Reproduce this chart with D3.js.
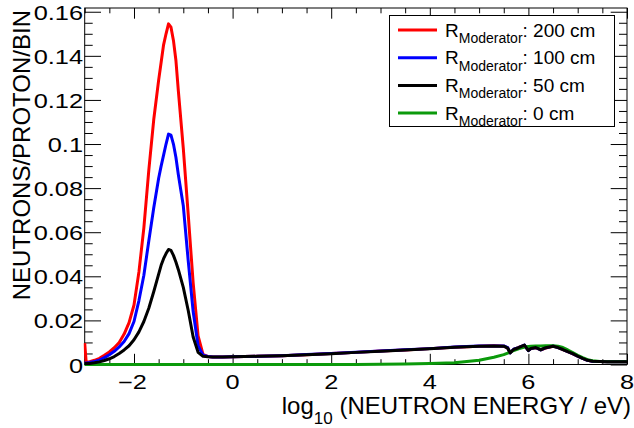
<!DOCTYPE html>
<html>
<head>
<meta charset="utf-8">
<script src="https://cdn.jsdelivr.net/npm/d3@7"></script>
<style>
  body { margin: 0; background: #fff; }
  svg { display: block; }
  text { font-family: "Liberation Sans", Arial, Helvetica, sans-serif; fill: #000; }
</style>
</head>
<body>
<svg id="chart" width="634" height="428"></svg>
<script>
// log10 of neutron energy (eV) at which each spectrum is sampled
const logE = [
  -3.0, -2.97, -2.9, -2.8, -2.7, -2.6, -2.5, -2.4, -2.3, -2.2, -2.1, -2.0,
  -1.9, -1.8, -1.7, -1.6, -1.5, -1.45, -1.4, -1.35, -1.3, -1.25, -1.2, -1.15,
  -1.1, -1.0, -0.9, -0.8, -0.7, -0.6, -0.5, -0.4,
  -0.2, 0, 0.5, 1, 1.5, 2, 2.5, 3, 3.5, 4, 4.5, 5, 5.3, 5.5, 5.58, 5.63,
  5.7, 5.8, 5.92, 6.0, 6.05, 6.15, 6.25, 6.35, 6.5, 6.6, 6.7, 6.8, 6.9,
  7.0, 7.1, 7.2, 7.3, 7.45, 7.6, 7.8, 8.0
];

// neutrons per proton per bin, moderator radius 200 cm
const mod200 = [
  0.0097, 0.0011, 0.0013, 0.0019, 0.0028, 0.0042, 0.0057, 0.0076, 0.0100, 0.0138, 0.0190, 0.0270,
  0.0420, 0.0620, 0.0880, 0.1110, 0.1290, 0.1370, 0.1450, 0.1500, 0.1545, 0.1530, 0.1470, 0.1380,
  0.1240, 0.0980, 0.0680, 0.0370, 0.0130, 0.0046, 0.0036, 0.0034,
  0.0034, 0.0035, 0.0037, 0.0040, 0.0044, 0.0050, 0.0055, 0.0061, 0.0066, 0.0072, 0.0078, 0.0083, 0.0085, 0.0083, 0.0075, 0.0054,
  0.0068, 0.0077, 0.0087, 0.0064, 0.0072, 0.0076, 0.0067, 0.0075, 0.0083, 0.0078, 0.0068, 0.0058, 0.0048,
  0.0038, 0.0028, 0.0019, 0.0015, 0.0014, 0.0013, 0.0013, 0.0013
];

// moderator radius 100 cm
const mod100 = [
  0.0006, 0.0007, 0.0009, 0.0014, 0.0020, 0.0031, 0.0044, 0.0060, 0.0080, 0.0104, 0.0140, 0.0195,
  0.0290, 0.0405, 0.0560, 0.0710, 0.0845, 0.0900, 0.0950, 0.1000, 0.1045, 0.1040, 0.1000, 0.0940,
  0.0860, 0.0720, 0.0470, 0.0240, 0.0085, 0.0042, 0.0036, 0.0034,
  0.0034, 0.0035, 0.0037, 0.0040, 0.0045, 0.0050, 0.0056, 0.0061, 0.0067, 0.0072, 0.0079, 0.0084, 0.0084, 0.0084, 0.0076, 0.0053,
  0.0069, 0.0076, 0.0088, 0.0063, 0.0073, 0.0077, 0.0066, 0.0076, 0.0084, 0.0077, 0.0069, 0.0058, 0.0049,
  0.0038, 0.0028, 0.0019, 0.0015, 0.0014, 0.0013, 0.0013, 0.0013
];

// moderator radius 50 cm
const mod50 = [
  0.0004, 0.0004, 0.0005, 0.0008, 0.0012, 0.0018, 0.0026, 0.0036, 0.0050, 0.0066, 0.0085, 0.0112,
  0.0148, 0.0195, 0.0255, 0.0330, 0.0410, 0.0450, 0.0480, 0.0503, 0.0522, 0.0518, 0.0495, 0.0465,
  0.0430, 0.0350, 0.0245, 0.0125, 0.0055, 0.0037, 0.0035, 0.0034,
  0.0034, 0.0035, 0.0037, 0.0040, 0.0044, 0.0049, 0.0055, 0.0060, 0.0066, 0.0071, 0.0078, 0.0083, 0.0084, 0.0083, 0.0074, 0.0053,
  0.0068, 0.0076, 0.0088, 0.0063, 0.0073, 0.0077, 0.0066, 0.0076, 0.0083, 0.0077, 0.0068, 0.0058, 0.0049,
  0.0038, 0.0028, 0.0019, 0.0015, 0.0014, 0.0013, 0.0013, 0.0013
];

// no moderator
const mod0 = [
  0, 0, 0, 0, 0, 0, 0, 0, 0, 0, 0, 0,
  0, 0, 0, 0, 0, 0, 0, 0, 0, 0, 0, 0,
  0, 0, 0, 0, 0, 0, 0, 0,
  0, 0, 0, 0, 0, 0, 0, 0.0001, 0.0002, 0.0004, 0.0008, 0.0019, 0.0033, 0.0045, 0.0052, 0.0057,
  0.0063, 0.0071, 0.0079, 0.0082, 0.0083, 0.0084, 0.0084, 0.0085, 0.0085, 0.0083, 0.0077, 0.0066, 0.0054,
  0.0042, 0.0031, 0.0022, 0.0017, 0.0014, 0.0013, 0.0013, 0.0013
];

const seriesNames = ["200 cm", "100 cm", "50 cm", "0 cm"];
const seriesColors = ["#ff0000", "#0000ff", "#000000", "#0b9a0b"];
const xTickValues = [-2, 0, 2, 4, 6, 8];
const xTickLabels = ["\u22122", "0", "2", "4", "6", "8"];
const yTickValues = [0, 0.02, 0.04, 0.06, 0.08, 0.1, 0.12, 0.14, 0.16];
const yTickLabels = ["0", "0.02", "0.04", "0.06", "0.08", "0.1", "0.12", "0.14", "0.16"];

const svg = d3.select("#chart");
const W = 634, H = 428;
const frame = { left: 84.7, right: 627, top: 8, bottom: 364.5 };

const x = d3.scaleLinear().domain([-3, 8]).range([frame.left, frame.right]);
const y = d3.scaleLinear().domain([0, 0.1617]).range([frame.bottom, frame.top]);

svg.append("rect").attr("width", W).attr("height", H).attr("fill", "#fff");

// frame
svg.append("rect")
  .attr("x", frame.left).attr("y", frame.top)
  .attr("width", frame.right - frame.left).attr("height", frame.bottom - frame.top)
  .attr("fill", "none").attr("stroke", "#000").attr("stroke-width", 1);

// axes: ticks drawn inward on all four sides
const xMajorLen = 10.7, xMinorLen = 5.3, yMajorLen = 16.3, yMinorLen = 8;
const xMinor = d3.range(-3, 8.001, 0.5).filter(v => !xTickValues.some(t => Math.abs(t - v) < 1e-6));
const yMinor = d3.range(0, 0.1617, 0.005).filter(v => !yTickValues.some(t => Math.abs(t - v) < 1e-6));

function tickAxis(axisFn, scale, values, len, transform) {
  const g = svg.append("g").attr("transform", transform)
    .call(axisFn(scale).tickValues(values).tickSize(-len).tickFormat(""));
  g.select(".domain").remove();
  g.selectAll(".tick line").attr("stroke", "#000").attr("stroke-width", 1);
  return g;
}
tickAxis(d3.axisBottom, x, xTickValues, xMajorLen, `translate(0,${frame.bottom})`);
tickAxis(d3.axisBottom, x, xMinor, xMinorLen, `translate(0,${frame.bottom})`);
tickAxis(d3.axisTop, x, xTickValues, xMajorLen, `translate(0,${frame.top})`);
tickAxis(d3.axisTop, x, xMinor, xMinorLen, `translate(0,${frame.top})`);
tickAxis(d3.axisLeft, y, yTickValues, yMajorLen, `translate(${frame.left},0)`);
tickAxis(d3.axisLeft, y, yMinor, yMinorLen, `translate(${frame.left},0)`);
tickAxis(d3.axisRight, y, yTickValues, yMajorLen, `translate(${frame.right},0)`);
tickAxis(d3.axisRight, y, yMinor, yMinorLen, `translate(${frame.right},0)`);

// spectra (drawn over the frame so the zero-level line stays fully visible)
svg.append("clipPath").attr("id", "plotClip")
  .append("rect")
  .attr("x", frame.left - 1).attr("y", frame.top - 2)
  .attr("width", frame.right - frame.left + 1).attr("height", frame.bottom - frame.top + 4);

const line = d3.line().x((d, i) => x(logE[i])).y(d => y(d)).curve(d3.curveLinear);
const drawOrder = [0, 1, 3, 2];
const spectra = [mod200, mod100, mod50, mod0];
const gLines = svg.append("g").attr("clip-path", "url(#plotClip)");
drawOrder.forEach(k => {
  gLines.append("path")
    .datum(spectra[k])
    .attr("d", line)
    .attr("fill", "none")
    .attr("stroke", seriesColors[k])
    .attr("stroke-width", 3)
    .attr("stroke-linejoin", "round");
});

// tick labels (slightly widened sans glyphs)
const tickSize = 19.5, tickStretch = 1.3;
const gLab = svg.append("g");
yTickValues.forEach((v, i) => {
  gLab.append("text")
    .attr("transform", `translate(83,${y(v) + 8}) scale(${tickStretch},1)`)
    .attr("text-anchor", "end")
    .attr("font-size", tickSize)
    .text(yTickLabels[i]);
});
xTickValues.forEach((v, i) => {
  gLab.append("text")
    .attr("transform", `translate(${x(v) - (v < 0 ? 1.5 : 0)},389) scale(${tickStretch},1)`)
    .attr("text-anchor", "middle")
    .attr("font-size", tickSize)
    .text(xTickLabels[i]);
});

// axis titles
const xt = svg.append("text")
  .attr("x", 631).attr("y", 414)
  .attr("text-anchor", "end")
  .attr("font-size", 24);
xt.append("tspan").text("log");
xt.append("tspan").attr("font-size", 17).attr("dy", 9.5).text("10");
xt.append("tspan").attr("dy", -9.5).text(" (NEUTRON ENERGY / eV)");

svg.append("text")
  .attr("transform", "translate(30,10) rotate(-90)")
  .attr("text-anchor", "end")
  .attr("font-size", 24)
  .text("NEUTRONS/PROTON/BIN");

// legend
const lg = svg.append("g");
lg.append("rect")
  .attr("x", 389.5).attr("y", 15.5).attr("width", 225).attr("height", 111)
  .attr("fill", "#fff").attr("stroke", "#000").attr("stroke-width", 1);
seriesNames.forEach((name, i) => {
  const cy = 30 + i * 27.7;
  lg.append("line")
    .attr("x1", 398).attr("x2", 437).attr("y1", cy).attr("y2", cy)
    .attr("stroke", seriesColors[i]).attr("stroke-width", 3);
  const t = lg.append("text").attr("x", 445).attr("y", cy + 6.5).attr("font-size", 19);
  t.append("tspan").text("R");
  t.append("tspan").attr("font-size", 14).attr("dy", 6.5).text("Moderator");
  t.append("tspan").attr("dy", -6.5).text(": " + name);
});
</script>
</body>
</html>
